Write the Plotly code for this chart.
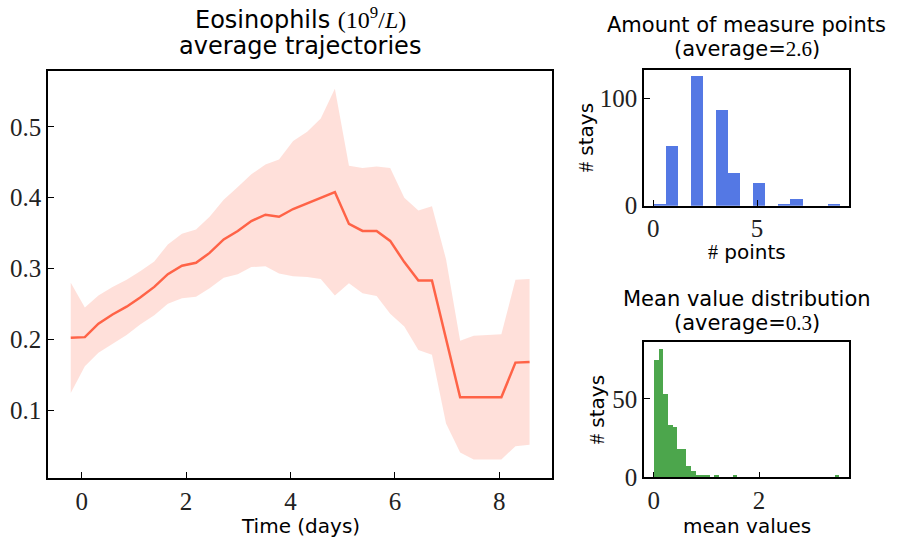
import plotly.graph_objects as go
import numpy as np

# ---- Data: main trajectory ----
days = [-0.21, 0.06, 0.32, 0.59, 0.86, 1.12, 1.39, 1.65, 1.92, 2.19, 2.45, 2.72,
        2.99, 3.25, 3.52, 3.78, 4.05, 4.32, 4.58, 4.85, 5.12, 5.38, 5.65, 5.91,
        6.18, 6.45, 6.71, 6.98, 7.25, 7.51, 7.78, 8.04, 8.31, 8.58]
mean_vals = [0.202, 0.203, 0.222, 0.235, 0.246, 0.259, 0.274, 0.292, 0.304, 0.308,
             0.322, 0.341, 0.353, 0.367, 0.376, 0.373, 0.384, 0.392, 0.399, 0.408,
             0.363, 0.353, 0.353, 0.339, 0.309, 0.283, 0.283, 0.200, 0.118, 0.118,
             0.118, 0.118, 0.167, 0.168]
upper_vals = [0.280, 0.245, 0.262, 0.274, 0.284, 0.296, 0.310, 0.334, 0.349, 0.355,
              0.373, 0.397, 0.415, 0.433, 0.447, 0.454, 0.480, 0.493, 0.512, 0.554,
              0.445, 0.442, 0.444, 0.442, 0.400, 0.382, 0.388, 0.313, 0.198, 0.205,
              0.206, 0.207, 0.284, 0.285]
lower_vals = [0.124, 0.162, 0.181, 0.194, 0.206, 0.221, 0.234, 0.250, 0.258, 0.260,
              0.272, 0.287, 0.292, 0.302, 0.303, 0.293, 0.289, 0.288, 0.285, 0.262,
              0.279, 0.265, 0.261, 0.236, 0.218, 0.185, 0.178, 0.081, 0.040, 0.030,
              0.030, 0.030, 0.049, 0.051]

# ---- Data: histogram of number of measure points ----
points_edges = [0.0, 0.6, 1.2, 1.8, 2.4, 3.0, 3.6, 4.2, 4.8, 5.4, 6.0, 6.6, 7.2, 7.8, 8.4, 9.0]
points_counts = [2, 56, 0, 121, 0, 89, 30, 0, 21, 0, 2, 6, 0, 0, 2]

# ---- Data: histogram of mean values ----
mean_bin_start = 0.006
mean_bin_end = 3.524
mean_counts = [75, 82, 53, 33, 32, 18, 18, 7, 4, 1, 1, 1, 0, 1, 0, 0, 0, 1,
               0, 0, 0, 0, 0, 0, 0, 0, 0, 0, 0, 0, 0, 0, 0, 0, 0, 0, 0, 0, 0, 1]

main_ticks_x = [0, 2, 4, 6, 8]
main_ticks_y = [0.1, 0.2, 0.3, 0.4, 0.5]

W, H = 897, 543
SANS = "DejaVu Sans"
SERIF = "Liberation Serif"
TICKFONT = dict(family=SERIF, size=25, color="#222")

fig = go.Figure()

# band
fig.add_trace(go.Scatter(x=days, y=lower_vals, mode="lines", line=dict(width=0),
                         showlegend=False, hoverinfo="skip", xaxis="x", yaxis="y"))
fig.add_trace(go.Scatter(x=days, y=upper_vals, mode="lines", line=dict(width=0),
                         fill="tonexty", fillcolor="rgba(255,99,71,0.2)",
                         showlegend=False, hoverinfo="skip", xaxis="x", yaxis="y"))
fig.add_trace(go.Scatter(x=days, y=mean_vals, mode="lines",
                         line=dict(color="#FF6347", width=2.5),
                         showlegend=False, xaxis="x", yaxis="y"))

# histogram 1
pe = np.array(points_edges)
fig.add_trace(go.Bar(x=(pe[:-1] + pe[1:]) / 2, y=points_counts, width=np.diff(pe),
                     marker=dict(color="rgba(65,105,225,0.9)", line=dict(width=0)),
                     showlegend=False, xaxis="x2", yaxis="y2"))

# histogram 2
me = np.linspace(mean_bin_start, mean_bin_end, len(mean_counts) + 1)
fig.add_trace(go.Bar(x=(me[:-1] + me[1:]) / 2, y=mean_counts, width=np.diff(me),
                     marker=dict(color="rgba(0,128,0,0.7)", line=dict(width=0)),
                     showlegend=False, xaxis="x3", yaxis="y3"))

def ax(domain, rng, tickvals, anchor):
    return dict(domain=domain, range=rng, tickvals=tickvals, ticks="inside",
                ticklen=6, tickwidth=1.2, tickcolor="black", showline=True,
                linecolor="black", linewidth=1.5, mirror=True, showgrid=False,
                zeroline=False, tickfont=TICKFONT, anchor=anchor, automargin=False)

fig.update_layout(
    width=W, height=H, margin=dict(l=0, r=0, t=0, b=0, autoexpand=False),
    paper_bgcolor="white", plot_bgcolor="white", bargap=0,
    xaxis=ax([48 / W, 552 / W], [-0.646, 9.01], main_ticks_x, "y"),
    yaxis=ax([1 - 478 / H, 1 - 71 / H], [0.004, 0.579], main_ticks_y, "x"),
    xaxis2=ax([644 / W, 849.3 / W], [-0.45, 9.45], [0, 5], "y2"),
    yaxis2=ax([1 - 205.7 / H, 1 - 70 / H], [0, 126.3], [0, 100], "x2"),
    xaxis3=ax([644 / W, 849.3 / W], [-0.184, 3.715], [0, 2], "y3"),
    yaxis3=ax([1 - 477.3 / H, 1 - 342.3 / H], [0, 86.2], [0, 50], "x3"),
)
fig.update_yaxes(tickformat=".1f", selector=dict(anchor="x"))

def txt(text, x, y, size, angle=0):
    fig.add_annotation(text=text, x=x / W, y=1 - y / H, xref="paper", yref="paper",
                       xanchor="center", yanchor="middle", showarrow=False,
                       textangle=angle, font=dict(family=SANS, size=size, color="black"))

ser = lambda s: f"<span style='font-family:{SERIF}'>{s}</span>"

txt("Eosinophils " + ser("(10<sup>9</sup>/<i>L</i>)"), 300, 18, 24)
txt("average trajectories", 300, 46, 24)
txt("Amount of measure points", 746.7, 25, 21)
txt("(average=" + ser("2.6") + ")", 746.7, 49, 21)
txt("Mean value distribution", 746.7, 299, 21)
txt("(average=" + ser("0.3") + ")", 746.7, 323, 21)
txt("Time (days)", 300, 526, 20)
txt(ser("#") + " points", 746.7, 252, 20)
txt("mean values", 746.7, 526, 20)
txt(ser("#") + " stays", 586, 138, 20, -90)
txt(ser("#") + " stays", 597, 410, 20, -90)

fig.write_html("out.html", config={"displayModeBar": False},
               post_script="document.body.style.margin='0';document.body.style.overflow='hidden';")
